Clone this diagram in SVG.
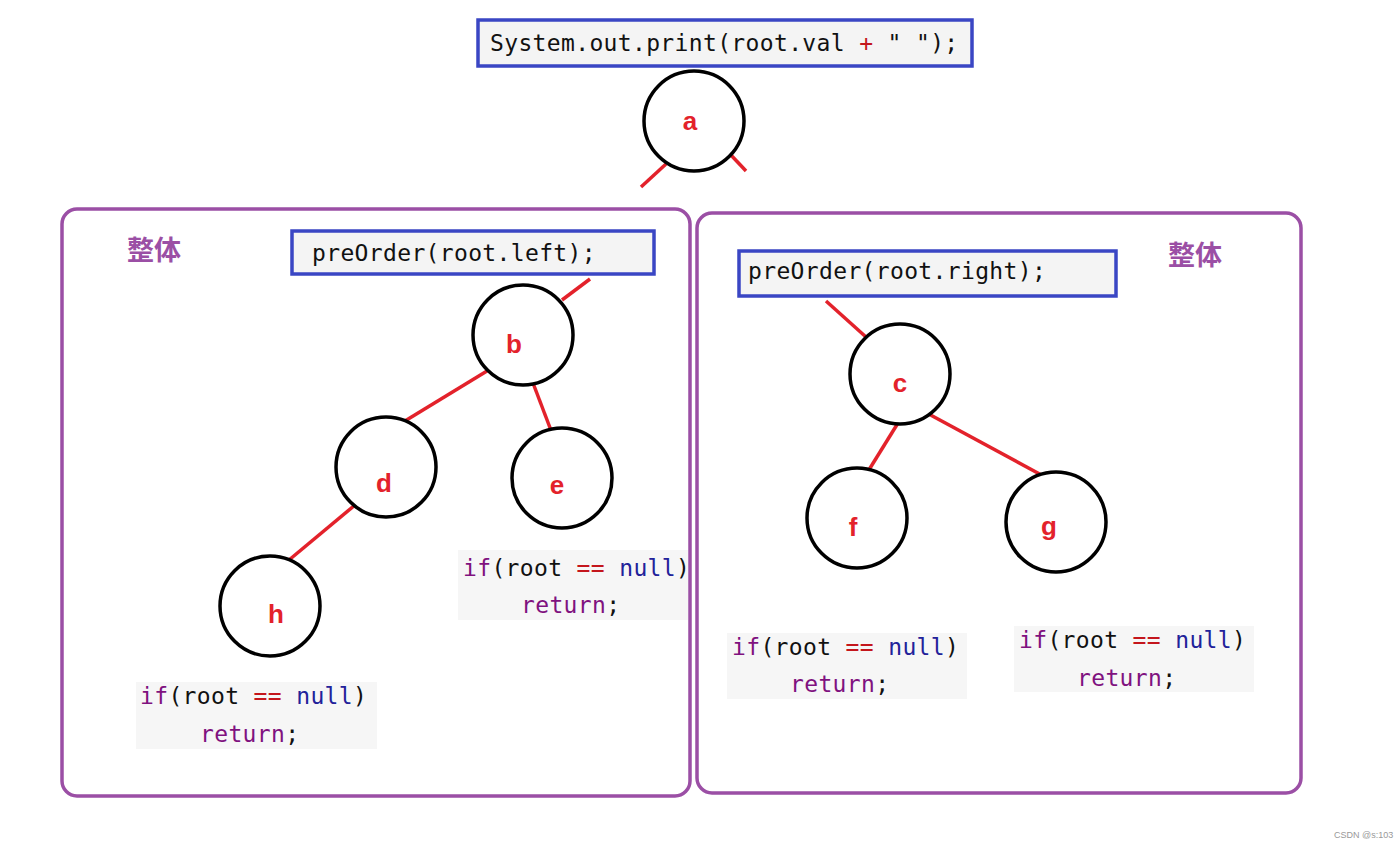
<svg xmlns="http://www.w3.org/2000/svg" width="1400" height="847" viewBox="0 0 1400 847">
<style>
.code{font-family:"DejaVu Sans Mono","Liberation Mono",monospace;font-size:23px;letter-spacing:0.35px;fill:#111}
.kw{fill:#80127f}.op{fill:#c4161c}.nl{fill:#22229a}
.cbox{fill:#f4f4f4;stroke:#3a46c4;stroke-width:3.5}
.cbg{fill:#f6f6f6}
.panel{fill:none;stroke:#9b4fa5;stroke-width:3.5}
.node{fill:#fff;stroke:#000;stroke-width:3.5}
.lbl{font-family:"Liberation Sans",Arial,sans-serif;font-weight:bold;font-size:26px;fill:#e3222b;text-anchor:middle}
.zt{font-family:"Noto Sans CJK SC","Noto Sans",sans-serif;font-weight:bold;font-size:27px;fill:#9b4fa5}
.edge{stroke:#e3222b;stroke-width:3.5;fill:none}
</style>
<rect width="1400" height="847" fill="#fff"/>
<g id="panels">
<rect id="panel-left" class="panel" x="62" y="209" width="628" height="587" rx="15"/>
<rect id="panel-right" class="panel" x="697" y="213" width="604" height="580" rx="15"/>
<text class="zt" x="127" y="260">整体</text>
<text class="zt" x="1168" y="265">整体</text>
</g>
<g id="connectors">
<line class="edge" x1="666" y1="164" x2="641" y2="187"/>
<line class="edge" x1="730" y1="154" x2="746" y2="171"/>
<line class="edge" x1="562" y1="300" x2="590" y2="279"/>
<line class="edge" x1="487" y1="371" x2="400" y2="424"/>
<line class="edge" x1="533" y1="383" x2="552" y2="433"/>
<line class="edge" x1="355" y1="505" x2="289" y2="560"/>
<line class="edge" x1="826" y1="301" x2="866" y2="337"/>
<line class="edge" x1="898" y1="423" x2="867" y2="473"/>
<line class="edge" x1="925" y1="412" x2="1047" y2="478"/>
</g>
<g id="code-print">
<rect class="cbox" x="478" y="20" width="494" height="46"/>
<text class="code" x="490" y="51">System.out.print(root.val <tspan class="op">+</tspan> " ");</text>
</g>
<g id="code-left">
<rect class="cbox" x="292" y="231" width="362" height="43"/>
<text class="code" x="312" y="261">preOrder(root.left);</text>
</g>
<g id="code-right">
<rect class="cbox" x="739" y="251" width="377" height="45"/>
<text class="code" x="748" y="279">preOrder(root.right);</text>
</g>
<g id="node-a"><circle class="node" cx="694" cy="121" r="50"/><text class="lbl" x="690" y="130">a</text></g>
<g id="node-b"><circle class="node" cx="523" cy="335" r="50"/><text class="lbl" x="514" y="353">b</text></g>
<g id="node-c"><circle class="node" cx="900" cy="374" r="50"/><text class="lbl" x="900" y="392">c</text></g>
<g id="node-d"><circle class="node" cx="386" cy="467" r="50"/><text class="lbl" x="384" y="492">d</text></g>
<g id="node-e"><circle class="node" cx="562" cy="478" r="50"/><text class="lbl" x="557" y="494">e</text></g>
<g id="node-f"><circle class="node" cx="857" cy="518" r="50"/><text class="lbl" x="853" y="536">f</text></g>
<g id="node-g"><circle class="node" cx="1056" cy="522" r="50"/><text class="lbl" x="1049" y="535">g</text></g>
<g id="node-h"><circle class="node" cx="270" cy="606" r="50"/><text class="lbl" x="276" y="623">h</text></g>
<g id="null-h">
<rect class="cbg" x="136" y="682" width="241" height="67"/>
<text class="code" x="140" y="704"><tspan class="kw">if</tspan>(root <tspan class="op">==</tspan> <tspan class="nl">null</tspan>)</text>
<text class="code" x="200" y="742"><tspan class="kw">return</tspan>;</text>
</g>
<g id="null-e">
<rect class="cbg" x="458" y="550" width="230" height="70"/>
<text class="code" x="463" y="576"><tspan class="kw">if</tspan>(root <tspan class="op">==</tspan> <tspan class="nl">null</tspan>)</text>
<text class="code" x="521" y="613"><tspan class="kw">return</tspan>;</text>
</g>
<g id="null-f">
<rect class="cbg" x="727" y="633" width="240" height="66"/>
<text class="code" x="732" y="655"><tspan class="kw">if</tspan>(root <tspan class="op">==</tspan> <tspan class="nl">null</tspan>)</text>
<text class="code" x="790" y="692"><tspan class="kw">return</tspan>;</text>
</g>
<g id="null-g">
<rect class="cbg" x="1014" y="626" width="240" height="66"/>
<text class="code" x="1019" y="648"><tspan class="kw">if</tspan>(root <tspan class="op">==</tspan> <tspan class="nl">null</tspan>)</text>
<text class="code" x="1077" y="686"><tspan class="kw">return</tspan>;</text>
</g>
<text x="1334" y="838" font-family="Liberation Sans,Arial,sans-serif" font-size="9" fill="#999">CSDN @s:103</text>
</svg>
